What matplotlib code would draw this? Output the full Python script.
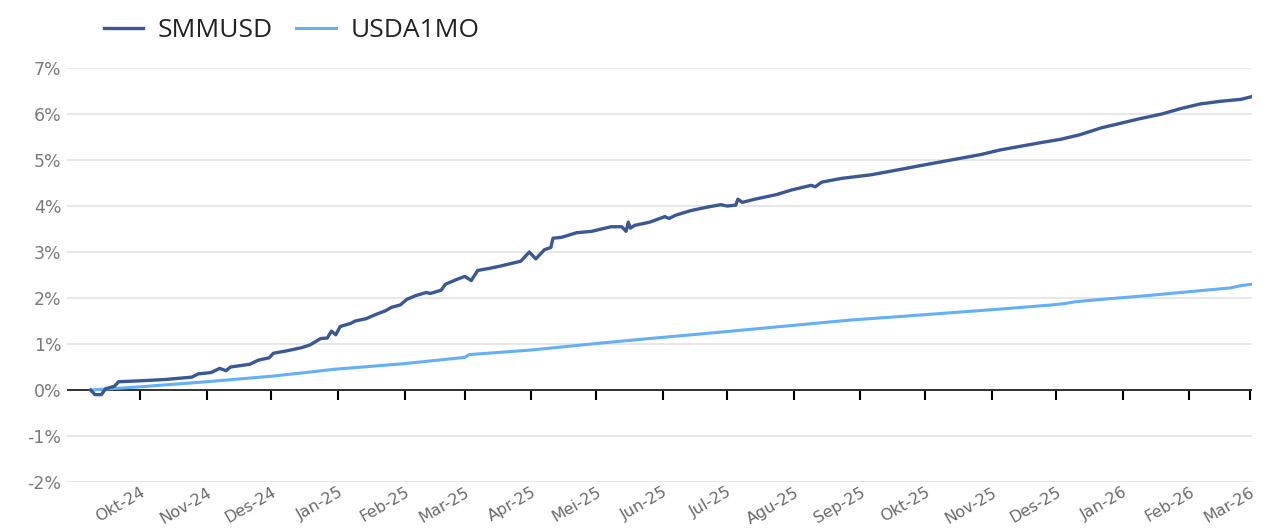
import pandas as pd
import matplotlib.pyplot as plt
import matplotlib.ticker as mticker

start = pd.Timestamp('2024-09-08')

# SMMUSD cumulative return (%), day offsets from start
smm_days = [0, 2, 5, 7, 11, 13, 23, 35, 47, 50, 56, 60, 63, 65, 74, 78, 83, 85, 91, 98,
            102, 107, 110, 112, 114, 116, 121, 123, 128, 133, 137, 140, 144, 147, 151,
            156, 158, 163, 165, 170, 174, 177, 180, 186, 191, 200, 204, 207, 211, 214,
            215, 219, 226, 233, 242, 247, 249, 250, 251, 253, 260, 267, 269, 272, 279,
            286, 293, 296, 300, 301, 303, 309, 319, 326, 335, 337, 340, 349, 363, 377,
            386, 400, 414, 423, 442, 451, 460, 470, 479, 488, 498, 507, 516, 526, 535, 540]
smm_vals = [0.0, -0.1, -0.1, 0.03, 0.08, 0.18, 0.2, 0.23, 0.28, 0.35, 0.38, 0.47, 0.42, 0.5,
            0.56, 0.65, 0.7, 0.8, 0.85, 0.92, 0.98, 1.12, 1.13, 1.28, 1.2, 1.38, 1.45, 1.5,
            1.55, 1.65, 1.72, 1.8, 1.85, 1.97, 2.05, 2.12, 2.1, 2.17, 2.3, 2.4, 2.47, 2.38,
            2.6, 2.65, 2.7, 2.8, 3.0, 2.85, 3.05, 3.1, 3.3, 3.32, 3.42, 3.45, 3.55, 3.55,
            3.45, 3.65, 3.52, 3.58, 3.65, 3.77, 3.73, 3.8, 3.9, 3.97, 4.03, 4.0, 4.02, 4.15,
            4.08, 4.15, 4.25, 4.35, 4.45, 4.42, 4.52, 4.6, 4.68, 4.8, 4.88, 5.0, 5.12, 5.22,
            5.38, 5.45, 5.55, 5.7, 5.8, 5.9, 6.0, 6.12, 6.22, 6.28, 6.32, 6.38]

# USDA1MO cumulative return (%)
usd_days = [0, 23, 54, 84, 98, 113, 145, 174, 176, 205, 237, 260, 284, 307, 330, 353, 377,
            400, 423, 447, 453, 458, 470, 493, 516, 530, 535, 540]
usd_vals = [0.0, 0.07, 0.18, 0.3, 0.37, 0.45, 0.57, 0.71, 0.77, 0.87, 1.02, 1.12, 1.22,
            1.32, 1.42, 1.52, 1.6, 1.68, 1.76, 1.85, 1.88, 1.92, 1.97, 2.06, 2.16, 2.22,
            2.27, 2.3]

month_labels = ['Okt-24', 'Nov-24', 'Des-24', 'Jan-25', 'Feb-25', 'Mar-25', 'Apr-25',
                'Mei-25', 'Jun-25', 'Jul-25', 'Agu-25', 'Sep-25', 'Okt-25', 'Nov-25',
                'Des-25', 'Jan-26', 'Feb-26', 'Mar-26']
month_ticks = pd.date_range('2024-10-01', periods=len(month_labels), freq='MS')

smm_dates = start + pd.to_timedelta(smm_days, unit='D')
usd_dates = start + pd.to_timedelta(usd_days, unit='D')

plt.rcParams['font.family'] = ['DejaVu Sans']

fig = plt.figure(figsize=(12.74, 5.28), dpi=100)
ax = fig.add_axes([0.0526, 0.0871, 0.930, 0.784])

ax.plot(smm_dates, smm_vals, color='#3a5894', linewidth=2.4, label='SMMUSD', zorder=4)
ax.plot(usd_dates, usd_vals, color='#62b0f5', linewidth=2.2, label='USDA1MO', zorder=3)
ax.axhline(0, color='black', linewidth=1.1, zorder=2)

ax.set_ylim(-2, 7)
ax.set_xlim(start - pd.Timedelta(days=11), pd.Timestamp('2026-03-02'))
ax.set_yticks(range(-2, 8))
ax.yaxis.set_major_formatter(mticker.FuncFormatter(lambda v, p: f'{v:.0f}%'))
ax.tick_params(axis='y', length=0, pad=4, labelsize=12.5, labelcolor='#7a7a7a')
ax.yaxis.grid(color='#e3e3e3', linewidth=1.2)
ax.set_axisbelow(True)

for s in ['top', 'right', 'left', 'bottom']:
    ax.spines[s].set_visible(False)

ax.set_xticks(month_ticks)
ax.set_xticklabels(month_labels, rotation=30, ha='right', va='top',
                   rotation_mode='anchor')
ax.tick_params(axis='x', length=0, pad=2, labelsize=11.5, labelcolor='#6a6a6a')

# month tick marks hanging from the zero line
zero = ax.secondary_xaxis(2 / 9)
zero.set_xticks(month_ticks)
zero.set_xticklabels([])
zero.tick_params(axis='x', length=7, width=1.5, color='black', direction='out')
zero.spines['bottom'].set_visible(False)

fig.legend(loc='upper left', bbox_to_anchor=(0.0626, 1.01), ncol=2, frameon=False,
           prop={'family': 'Open Sans', 'size': 19}, handlelength=1.5,
           handletextpad=0.55, columnspacing=0.9, labelcolor='#222222')

plt.savefig('out.png', dpi=100)
